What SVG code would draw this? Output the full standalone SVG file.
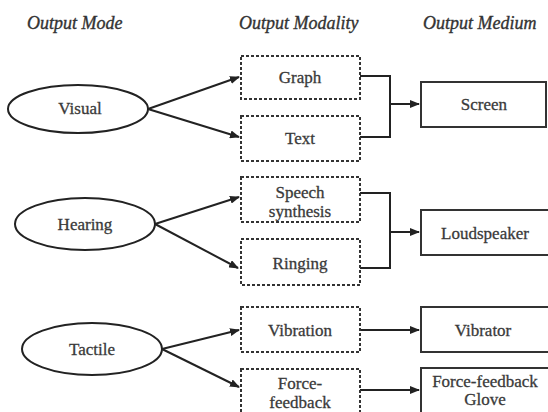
<svg xmlns="http://www.w3.org/2000/svg" width="548" height="412" viewBox="0 0 548 412">
<defs>
<marker id="arr" markerWidth="10" markerHeight="8" refX="9" refY="4" orient="auto" markerUnits="userSpaceOnUse">
<path d="M0,0 L10,4 L0,8 Z" fill="#222"/>
</marker>
<style>
.hdr{font-family:'Liberation Serif','Times New Roman','DejaVu Serif',serif;font-style:italic;font-size:18px;fill:#333;stroke:#333;stroke-width:0.35}
.lbl{font-family:'Liberation Serif','Times New Roman','DejaVu Serif',serif;font-size:17px;fill:#3a3a3a;stroke:#3a3a3a;stroke-width:0.3;text-anchor:middle}
.mode{fill:#fff;stroke:#222;stroke-width:2}
.mod{fill:#fff;stroke:#333;stroke-width:2;stroke-dasharray:3 2}
.med{fill:#fff;stroke:#333;stroke-width:2}
.c{fill:none;stroke:#222;stroke-width:2}
</style>
</defs>
<rect width="548" height="412" fill="#fff"/>
<g id="headers">
<text class="hdr" x="27" y="29">Output Mode</text>
<text class="hdr" x="239" y="29">Output Modality</text>
<text class="hdr" x="423" y="29">Output Medium</text>
</g>
<g id="connectors">
<line class="c" x1="148" y1="109" x2="239" y2="77" marker-end="url(#arr)"/>
<line class="c" x1="148" y1="109" x2="239" y2="137" marker-end="url(#arr)"/>
<polyline class="c" points="360,76 390,76 390,137 360,137"/>
<line class="c" x1="390" y1="104" x2="419" y2="104" marker-end="url(#arr)"/>
<line class="c" x1="155" y1="224" x2="239" y2="197" marker-end="url(#arr)"/>
<line class="c" x1="155" y1="224" x2="238" y2="268" marker-end="url(#arr)"/>
<polyline class="c" points="360,193 390,193 390,268 360,268"/>
<line class="c" x1="390" y1="232" x2="419" y2="232" marker-end="url(#arr)"/>
<line class="c" x1="162" y1="349" x2="239" y2="330" marker-end="url(#arr)"/>
<line class="c" x1="162" y1="349" x2="239" y2="387" marker-end="url(#arr)"/>
<line class="c" x1="360" y1="330" x2="419" y2="330" marker-end="url(#arr)"/>
<line class="c" x1="360" y1="390" x2="419" y2="390" marker-end="url(#arr)"/>
</g>
<g id="visual"><ellipse class="mode" cx="78" cy="109" rx="70" ry="24"/><text class="lbl" x="80" y="114">Visual</text></g>
<g id="hearing"><ellipse class="mode" cx="85" cy="224" rx="70" ry="26"/><text class="lbl" x="85" y="230">Hearing</text></g>
<g id="tactile"><ellipse class="mode" cx="92" cy="349" rx="70" ry="26"/><text class="lbl" x="92" y="355">Tactile</text></g>
<g id="graph"><rect class="mod" x="241" y="56" width="119" height="43"/><text class="lbl" x="300" y="83">Graph</text></g>
<g id="text"><rect class="mod" x="241" y="116" width="119" height="45"/><text class="lbl" x="300" y="144">Text</text></g>
<g id="speech"><rect class="mod" x="241" y="177" width="119" height="45"/><text class="lbl" x="300" y="198">Speech</text><text class="lbl" x="300" y="217">synthesis</text></g>
<g id="ringing"><rect class="mod" x="241" y="239" width="119" height="46"/><text class="lbl" x="300" y="269">Ringing</text></g>
<g id="vibration"><rect class="mod" x="241" y="307" width="119" height="45"/><text class="lbl" x="300" y="336">Vibration</text></g>
<g id="forcefeedback"><rect class="mod" x="241" y="369" width="119" height="50"/><text class="lbl" x="300" y="389">Force-</text><text class="lbl" x="300" y="408">feedback</text></g>
<g id="screen"><rect class="med" x="421" y="82" width="125" height="45"/><text class="lbl" x="484" y="110">Screen</text></g>
<g id="loudspeaker"><rect class="med" x="421" y="210" width="135" height="45"/><text class="lbl" x="485" y="239">Loudspeaker</text></g>
<g id="vibrator"><rect class="med" x="421" y="307" width="135" height="45"/><text class="lbl" x="483" y="336">Vibrator</text></g>
<g id="glove"><rect class="med" x="421" y="368" width="135" height="50"/><text class="lbl" x="485" y="387">Force-feedback</text><text class="lbl" x="485" y="405">Glove</text></g>
</svg>
